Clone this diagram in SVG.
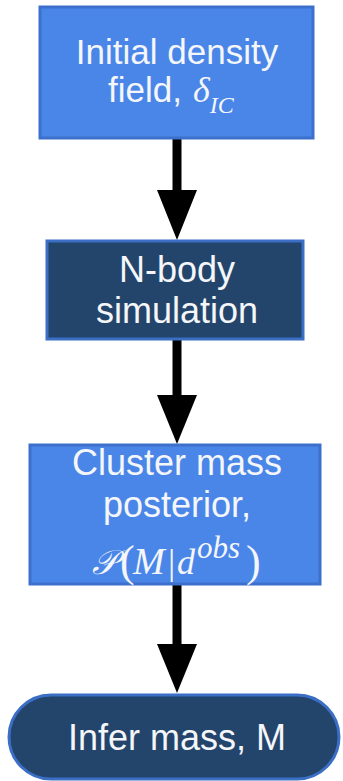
<svg xmlns="http://www.w3.org/2000/svg" width="343" height="781" viewBox="0 0 343 781">
  <defs>
    <style>
      .light { fill: #4a86e8; stroke: #3c70cc; stroke-width: 3; }
      .dark { fill: #23456b; stroke: #3b6fc6; stroke-width: 3; }
      .label { font-family: "Liberation Sans", Arial, sans-serif; font-size: 36px; fill: #f4f6fa; text-anchor: middle; }
      .math { font-family: "Liberation Serif", "DejaVu Serif", serif; font-style: italic; fill: #f4f6fa; }
      .up { font-family: "Liberation Serif", "DejaVu Serif", serif; fill: #f4f6fa; }
      .shaft { stroke: #000; stroke-width: 9; fill: none; }
      .head { fill: #000; }
    </style>
  </defs>

  <g id="connectors">
    <line class="shaft" x1="177" y1="138" x2="177" y2="195"/>
    <polygon class="head" points="157,190 197,190 177,240"/>
    <line class="shaft" x1="177" y1="339" x2="177" y2="400"/>
    <polygon class="head" points="157,395 197,395 177,444"/>
    <line class="shaft" x1="177" y1="584" x2="177" y2="650"/>
    <polygon class="head" points="157,644 197,644 177,693"/>
  </g>

  <g id="initial-density">
    <rect class="light" x="40" y="7" width="273" height="131"/>
    <text class="label" x="177" y="64" style="font-size:35px">Initial density</text>
    <text class="label" x="108" y="102" style="font-size:35px;text-anchor:start">field,</text>
    <text class="math" x="193" y="102" font-size="36">δ<tspan font-size="24" dy="11">IC</tspan></text>
  </g>

  <g id="nbody">
    <rect class="dark" x="47" y="241" width="256" height="98"/>
    <text class="label" x="177" y="282">N-body</text>
    <text class="label" x="177" y="323">simulation</text>
  </g>

  <g id="posterior">
    <rect class="light" x="30" y="445" width="290" height="139"/>
    <text class="label" x="177" y="475">Cluster mass</text>
    <text class="label" x="177" y="517">posterior,</text>
    <text class="math" x="92" y="574" font-size="34">𝒫</text>
    <text class="up" x="120" y="576" font-size="44">(</text>
    <text class="math" x="133" y="574" font-size="38">M</text>
    <text class="up" x="168" y="574" font-size="36">|</text>
    <text class="math" x="177" y="574" font-size="36">d</text>
    <text class="math" x="197" y="558" font-size="31">obs</text>
    <text class="up" x="246" y="576" font-size="44">)</text>
  </g>

  <g id="infer-mass">
    <rect class="dark" x="9" y="695" width="330" height="84" rx="42" ry="42"/>
    <text class="label" x="177" y="750">Infer mass, M</text>
  </g>
</svg>
